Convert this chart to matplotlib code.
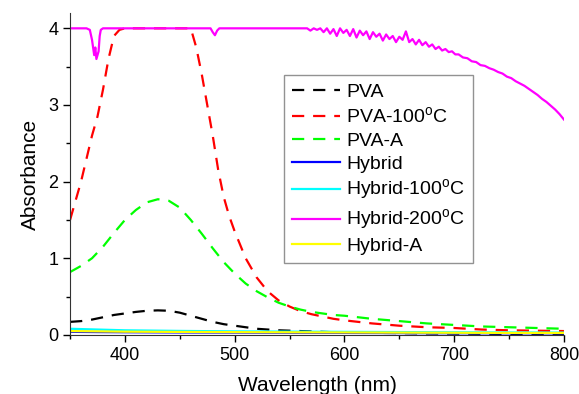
import matplotlib
matplotlib.use("Agg")
import matplotlib.pyplot as plt
from matplotlib.ticker import MultipleLocator

plt.rcParams['font.family'] = ['Liberation Sans', 'DejaVu Sans']
plt.rcParams['mathtext.fontset'] = 'custom'
plt.rcParams['mathtext.rm'] = 'Liberation Sans'

# dashed curves (PVA films)
wl_d = [350, 360, 370, 380, 390, 400, 410, 420, 430, 440, 450, 460, 470, 480, 490,
        500, 510, 520, 530, 540, 550, 560, 570, 580, 590, 600, 625, 650, 675, 700,
        725, 750, 775, 800]
pva = [0.17, 0.18, 0.20, 0.23, 0.26, 0.28, 0.30, 0.315, 0.32, 0.315, 0.29, 0.25, 0.21,
       0.17, 0.14, 0.12, 0.10, 0.08, 0.07, 0.06, 0.055, 0.05, 0.045, 0.04, 0.035, 0.03,
       0.027, 0.024, 0.02, 0.018, 0.015, 0.013, 0.011, 0.01]
pva_a = [0.82, 0.90, 1.00, 1.15, 1.33, 1.50, 1.63, 1.73, 1.77, 1.75, 1.66, 1.50, 1.32,
         1.13, 0.95, 0.80, 0.67, 0.57, 0.49, 0.42, 0.37, 0.33, 0.30, 0.28, 0.26, 0.25,
         0.21, 0.18, 0.15, 0.13, 0.11, 0.10, 0.09, 0.08]

wl_r = [350, 355, 360, 365, 370, 375, 380, 385, 390, 395, 400, 460, 465, 470, 475, 480,
        485, 490, 495, 500, 510, 520, 530, 540, 550, 560, 570, 580, 590, 600, 625, 650,
        675, 700, 725, 750, 775, 800]
pva_100 = [1.5, 1.75, 2.0, 2.3, 2.6, 2.85, 3.2, 3.6, 3.9, 3.98, 4.0, 4.0, 3.75, 3.4, 3.0,
           2.6, 2.15, 1.8, 1.55, 1.35, 1.0, 0.75, 0.57, 0.45, 0.37, 0.31, 0.27, 0.24,
           0.21, 0.19, 0.15, 0.12, 0.10, 0.09, 0.07, 0.06, 0.055, 0.05]

# solid curves (hybrid films)
wl_h = [350, 375, 400, 450, 500, 550, 600, 650, 700, 750, 800]
hybrid = [0.04, 0.037, 0.035, 0.032, 0.03, 0.028, 0.026, 0.024, 0.022, 0.021, 0.02]
hybrid_100 = [0.08, 0.07, 0.06, 0.052, 0.046, 0.043, 0.04, 0.037, 0.034, 0.032, 0.03]
hybrid_a = [0.05, 0.046, 0.042, 0.039, 0.036, 0.034, 0.032, 0.03, 0.028, 0.026, 0.025]

# Hybrid-200 saturates at 4, noisy above ~570 nm
wl_m = [350, 365, 368, 370, 372, 373, 374, 376, 377, 378, 380, 478, 480, 482, 484, 486,
        560,
        566, 569, 572, 575, 578, 581, 584, 587, 590, 593, 596, 599, 602, 605, 608, 611,
        614, 617, 620, 623, 626, 629, 632, 635, 638, 641, 644, 647, 650, 653, 656, 659,
        662, 665, 668, 671, 674, 677, 680, 683, 686, 689, 692, 695, 698, 701, 704,
        708, 712, 716, 720, 724, 728, 732, 736, 740, 744, 748, 752, 756, 760, 764, 768,
        772, 776, 780, 784, 788, 792, 796, 800]
hybrid_200 = [4.0, 4.0, 3.98, 3.85, 3.65, 3.75, 3.6, 3.7, 3.9, 3.98, 4.0, 4.0, 3.95, 3.91,
              3.97, 4.0, 4.0,
              4.0, 3.97, 4.0, 3.98, 4.0, 3.95, 4.0, 3.93, 3.99, 3.9, 4.0, 3.94, 3.98,
              3.9, 3.99, 3.88, 3.97, 3.91, 3.96, 3.86, 3.95, 3.89, 3.93, 3.84, 3.92,
              3.86, 3.9, 3.82, 3.89, 3.85, 3.96, 3.82, 3.86, 3.79, 3.85, 3.78, 3.82,
              3.76, 3.79, 3.73, 3.76, 3.71, 3.73, 3.69, 3.7, 3.66, 3.66,
              3.62, 3.61, 3.57, 3.56, 3.52, 3.51, 3.48, 3.46, 3.43, 3.41, 3.37, 3.35,
              3.31, 3.28, 3.25, 3.21, 3.17, 3.13, 3.08, 3.04, 2.99, 2.94, 2.88, 2.81]

fig = plt.figure(figsize=(5.79, 3.94), dpi=100)
ax = fig.add_axes([0.121, 0.150, 0.853, 0.817])

lw = 1.6
dash = (5.5, 4)
ax.plot(wl_d, pva, color='black', lw=lw, ls='--', dashes=dash, label='PVA')
ax.plot(wl_r, pva_100, color='#FF0000', lw=lw, ls='--', dashes=dash,
        label='PVA-100$^{\\mathrm{o}}$C')
ax.plot(wl_d, pva_a, color='#00FF00', lw=lw, ls='--', dashes=dash, label='PVA-A')
ax.plot(wl_h, hybrid, color='#0000FF', lw=lw, label='Hybrid')
ax.plot(wl_h, hybrid_100, color='#00FFFF', lw=lw, label='Hybrid-100$^{\\mathrm{o}}$C')
ax.plot(wl_m, hybrid_200, color='#FF00FF', lw=lw, label='Hybrid-200$^{\\mathrm{o}}$C')
ax.plot(wl_h, hybrid_a, color='#FFFF00', lw=lw, label='Hybrid-A')

ax.set_xlim(350, 800)
ax.set_ylim(0, 4.2)
ax.xaxis.set_major_locator(MultipleLocator(100))
ax.xaxis.set_minor_locator(MultipleLocator(50))
ax.yaxis.set_major_locator(MultipleLocator(1))
ax.yaxis.set_minor_locator(MultipleLocator(0.5))
ax.tick_params(which='major', direction='out', length=5, width=1, labelsize=13)
ax.tick_params(which='minor', direction='out', length=3, width=1)
for s in ['top', 'right']:
    ax.spines[s].set_visible(False)
for s in ['left', 'bottom']:
    ax.spines[s].set_color('#333333')

ax.set_xlabel('Wavelength (nm)', fontsize=15, labelpad=9)
ax.set_ylabel('Absorbance', fontsize=15, labelpad=6)

leg = ax.legend(loc='upper left', bbox_to_anchor=(0.433, 0.806), fontsize=14,
                frameon=True, fancybox=False, handlelength=2.5, handletextpad=0.3,
                labelspacing=0.27, borderpad=0.4, borderaxespad=0)
leg.get_frame().set_edgecolor('#777777')
leg.get_frame().set_linewidth(1.0)

fig.savefig('out.png', dpi=100)
